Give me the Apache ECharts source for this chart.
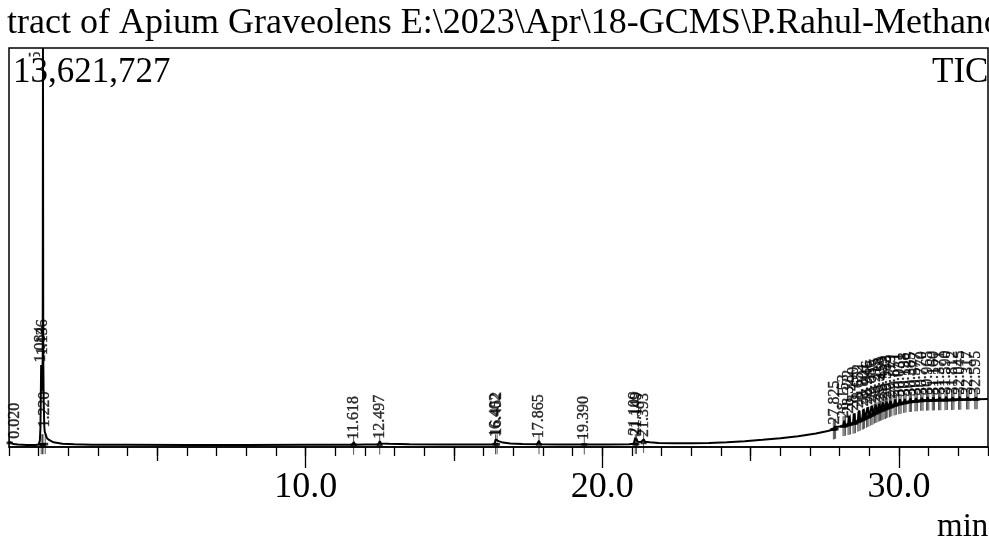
<!DOCTYPE html>
<html>
<head>
<meta charset="utf-8">
<script src="https://cdn.jsdelivr.net/npm/echarts@6/dist/echarts.min.js"></script>
<style>
  html, body { margin: 0; padding: 0; background: #fff; }
  #chart { width: 989px; height: 541px; }
</style>
</head>
<body>
<div id="chart"></div>
<script>
// Total ion chromatogram: retention time (min) and detector counts
const traceTime = [
  0.000, 0.020, 0.060, 0.150, 0.300, 0.600, 0.900, 1.000, 1.040, 1.060,
  1.084, 1.100, 1.120, 1.136, 1.145, 1.155, 1.170, 1.190, 1.205, 1.220,
  1.240, 1.280, 1.350, 1.500, 1.800, 2.200, 2.800, 4.000, 6.000, 8.000,
  10.000, 11.000, 11.580, 11.618, 11.660, 12.000, 12.450, 12.497, 12.540, 12.800,
  13.500, 14.500, 15.500, 16.300, 16.370, 16.402, 16.425, 16.452, 16.500, 16.650,
  16.900, 17.300, 17.800, 17.865, 17.910, 18.500, 19.350, 19.390, 19.430, 20.200,
  20.900, 21.060, 21.109, 21.130, 21.149, 21.190, 21.300, 21.393, 21.440, 21.600,
  21.900, 22.400, 23.000, 23.600, 24.200, 24.800, 25.400, 26.000, 26.600, 27.200,
  27.600, 27.785, 27.825, 27.865,
  28.113, 28.153, 28.193, 28.282, 28.322, 28.362, 28.450, 28.490, 28.530,
  28.612, 28.652, 28.692, 28.761, 28.801, 28.841, 28.906, 28.946, 28.986,
  29.046, 29.086, 29.126, 29.175, 29.215, 29.255, 29.298, 29.338, 29.378,
  29.419, 29.459, 29.499, 29.543, 29.583, 29.623, 29.679, 29.719, 29.759,
  29.831, 29.871, 29.911, 29.991, 30.031, 30.071, 30.158, 30.198, 30.238,
  30.345, 30.385, 30.425, 30.537, 30.577, 30.617, 30.730, 30.770, 30.810,
  30.925, 30.965, 31.005, 31.120, 31.160, 31.200, 31.331, 31.371, 31.411,
  31.550, 31.590, 31.630, 31.772, 31.812, 31.852, 32.005, 32.045, 32.085,
  32.277, 32.317, 32.357, 32.555, 32.595, 32.635, 33.000
];
const traceCounts = [
  180000, 200000, 140000, 100000, 82000, 72000, 72000, 85000, 220000, 650000,
  2800000, 1900000, 2300000, 3050000, 13621727, 3000000, 1500000, 700000, 520000, 580000,
  420000, 300000, 240000, 160000, 110000, 90000, 80000, 75000, 72000, 72000,
  74000, 76000, 78000, 170000, 80000, 82000, 85000, 200000, 120000, 110000,
  95000, 85000, 82000, 85000, 120000, 260000, 220000, 300000, 200000, 150000,
  120000, 100000, 92000, 210000, 95000, 88000, 86000, 150000, 88000, 86000,
  90000, 110000, 320000, 220000, 290000, 180000, 170000, 260000, 180000, 160000,
  140000, 128000, 128000, 140000, 165000, 200000, 245000, 300000, 370000, 460000,
  545000, 600000, 680000, 620000,
  705000, 900000, 725000, 750000, 1050000, 770000, 795000, 1150000, 815000,
  860000, 1250000, 900000, 930000, 1300000, 970000, 1000000, 1360000, 1040000,
  1070000, 1400000, 1110000, 1140000, 1450000, 1180000, 1200000, 1480000, 1240000,
  1250000, 1520000, 1290000, 1300000, 1550000, 1340000, 1355000, 1570000, 1390000,
  1415000, 1620000, 1440000, 1460000, 1630000, 1480000, 1500000, 1640000, 1515000,
  1535000, 1660000, 1545000, 1555000, 1670000, 1565000, 1575000, 1680000, 1580000,
  1583000, 1700000, 1587000, 1590000, 1690000, 1592000, 1598000, 1700000, 1600000,
  1600000, 1710000, 1603000, 1607000, 1700000, 1610000, 1613000, 1710000, 1616000,
  1618000, 1700000, 1621000, 1626000, 1700000, 1630000, 1640000
];

// Integrated peaks: retention time (min) and baseline counts under each peak
const peakTime = [
  0.020, 1.084, 1.136, 1.145, 1.220, 11.618, 12.497, 16.402, 16.452, 17.865,
  19.390, 21.109, 21.149, 21.393,
  27.825, 28.153, 28.322, 28.490, 28.652, 28.801, 28.946, 29.086, 29.215,
  29.338, 29.459, 29.583, 29.719, 29.871, 30.031, 30.198, 30.385, 30.577,
  30.770, 30.965, 31.160, 31.371, 31.590, 31.812, 32.045, 32.317, 32.595
];
const peakBase = [
  140000, 90000, 90000, 90000, 100000, 78000, 85000, 90000, 90000, 92000,
  86000, 100000, 100000, 140000,
  605000, 715000, 760000, 805000, 880000, 950000, 1020000, 1090000, 1160000,
  1220000, 1270000, 1320000, 1372000, 1428000, 1470000, 1508000, 1540000, 1560000,
  1578000, 1585000, 1591000, 1599000, 1601000, 1608000, 1615000, 1620000, 1628000
];

// Axis scale and tick values
const fullScale = 13621727;
const timeMax = 33;
const minorTicks = [0, 1, 2, 3, 4, 5, 6, 7, 8, 9, 10, 11, 12, 13, 14, 15, 16, 17, 18, 19, 20,
  21, 22, 23, 24, 25, 26, 27, 28, 29, 30, 31, 32, 33];
const midTicks = [5, 15, 25];
const majorTicks = [10, 20, 30];

const titleText = 'tract of Apium Graveolens E:\\2023\\Apr\\18-GCMS\\P.Rahul-Methanol';
const scaleText = '13,621,727';
const traceName = 'TIC';
const unitText = 'min';

const serif = "'Liberation Serif','Times New Roman',serif";
const ink = '#000';

const trace = traceTime.map((t, i) => [t, traceCounts[i]]);
const apexIndex = t => traceTime.indexOf(t);

const labelData = peakTime.map(t => {
  const apex = traceCounts[apexIndex(t)];
  const item = { value: [t, apex] };
  if (apex >= fullScale) {
    // off-scale peak: label hangs down from the top edge
    item.label = { position: 'bottom', align: 'right', distance: 3, offset: [0, -7] };
  } else if (t < 0.5) {
    // keep the first label clear of the left frame
    item.label = { offset: [0, 5] };
  }
  return item;
});

// baseline marks under each peak; late-eluting cluster also marks the peak start and end
const markData = [];
peakTime.forEach((t, i) => {
  markData.push([t, peakBase[i]]);
  if (t > 27) {
    const k = apexIndex(t);
    markData.push([traceTime[k - 1], traceCounts[k - 1]]);
    markData.push([traceTime[k + 1], traceCounts[k + 1]]);
  }
});

function timeAxis(ticks, len, withLabels) {
  return {
    type: 'value', min: 0, max: timeMax, gridIndex: 0, position: 'bottom',
    axisLine: { show: withLabels === null, lineStyle: { color: ink, width: 1.5 } },
    splitLine: { show: false },
    axisTick: { show: true, length: len, customValues: ticks, lineStyle: { color: ink, width: 1.3 } },
    axisLabel: withLabels ? {
      show: true, customValues: ticks, margin: 23,
      fontFamily: serif, fontSize: 36, color: ink,
      formatter: v => v.toFixed(1)
    } : { show: false }
  };
}

const chart = echarts.init(document.getElementById('chart'), null, { renderer: 'canvas' });
chart.setOption({
  animation: false,
  backgroundColor: '#fff',
  grid: {
    left: 9, right: 1, top: 48, bottom: 94,
    show: true, borderColor: ink, borderWidth: 1.5, backgroundColor: 'transparent'
  },
  xAxis: [
    timeAxis(minorTicks, 9, null),
    timeAxis(midTicks, 14, false),
    timeAxis(majorTicks, 21, true)
  ],
  yAxis: {
    type: 'value', min: 0, max: fullScale,
    axisLine: { show: false }, axisTick: { show: false },
    axisLabel: { show: false }, splitLine: { show: false }
  },
  graphic: [
    { type: 'text', left: 7, top: 6, z: 100,
      style: { text: titleText, font: '36px ' + serif, fill: ink } },
    { type: 'text', left: 13, top: 55, z: 100,
      style: { text: scaleText, font: '35px ' + serif, fill: ink,
               lineHeight: 32, backgroundColor: '#fff' } },
    { type: 'text', left: 932, top: 55, z: 100,
      style: { text: traceName, font: '35px ' + serif, fill: ink } },
    { type: 'text', left: 937, top: 511, z: 100,
      style: { text: unitText, font: '33px ' + serif, fill: ink } }
  ],
  series: [
    {
      name: traceName, type: 'line', data: trace, z: 200,
      xAxisIndex: 0, symbol: 'none', silent: true,
      lineStyle: { color: ink, width: 2 }
    },
    {
      name: 'peak marks', type: 'scatter', data: markData, z: 150,
      xAxisIndex: 0, silent: true,
      symbol: 'path://M3,0L3,20M0,10L6,10', symbolSize: [6, 20], symbolKeepAspect: false,
      itemStyle: { color: 'rgba(0,0,0,0)', borderColor: ink, borderWidth: 1.5 }
    },
    {
      name: 'peak labels', type: 'scatter', data: labelData, z: 50,
      xAxisIndex: 0, silent: true,
      symbol: 'circle', symbolSize: 1, itemStyle: { color: 'rgba(0,0,0,0)' },
      label: {
        show: true, position: 'top', distance: 2, rotate: 90,
        align: 'left', verticalAlign: 'middle',
        fontFamily: serif, fontSize: 16, color: ink,
        textBorderColor: ink, textBorderWidth: 0.4,
        formatter: p => p.value[0].toFixed(3)
      }
    }
  ]
});
</script>
</body>
</html>
